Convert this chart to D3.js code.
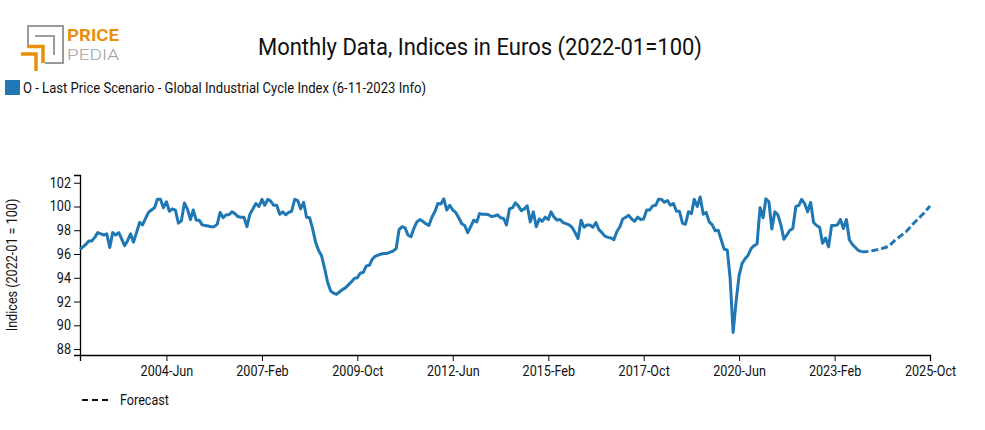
<!DOCTYPE html>
<html>
<head>
<meta charset="utf-8">
<script src="https://cdn.jsdelivr.net/npm/d3@7"></script>
<style>
  html, body { margin: 0; padding: 0; background: #fff; }
  svg text { font-family: Roboto, "Noto Sans", sans-serif; fill: #222; }
</style>
</head>
<body>
<svg id="chart" width="985" height="430"></svg>
<script>
// ---------------- DATA ----------------
const title = "Monthly Data, Indices in Euros (2022-01=100)";
const seriesName = "O - Last Price Scenario - Global Industrial Cycle Index (6-11-2023 Info)";
const yAxisLabel = "Indices (2022-01 = 100)";
const forecastLabel = "Forecast";
const startMonth = "2002-01";           // first month of the series
const forecastStartMonth = "2023-11";   // first month of the forecast part

// monthly values, 2002-01 .. 2023-11 (actual)
const actualValues = [
  96.4, 96.6, 96.8, 97.1, 97.1, 97.4, 97.8, 97.7, 97.6, 97.7, 96.55, 97.8,
  97.6, 97.8, 97.3, 96.7, 97.1, 97.7, 97.0, 97.8, 98.65, 98.45, 99.0, 99.5,
  99.7, 99.9, 100.6, 100.6, 99.9, 100.4, 99.6, 99.8, 99.7, 98.6, 98.8, 100.3,
  99.8, 98.9, 99.7, 98.85, 98.85, 98.45, 98.4, 98.35, 98.3, 98.3, 98.5, 99.5,
  99.05, 99.3, 99.3, 99.55, 99.4, 99.15, 99.1, 99.1, 98.3, 99.35, 99.8, 100.25,
  100.0, 100.6, 100.1, 100.6, 100.45, 100.1, 100.1, 99.35, 99.55, 99.3, 99.5, 99.6,
  100.6, 100.5, 99.8, 100.35, 99.1, 99.05, 98.15, 97.0, 96.3, 95.85, 94.8, 93.65,
  92.9, 92.7, 92.6, 92.8, 93.0, 93.15, 93.4, 93.65, 93.95, 94.0, 94.4, 94.45,
  95.0, 95.05, 95.55, 95.8, 95.9, 96.0, 96.05, 96.05, 96.15, 96.25, 96.45, 98.05,
  98.3, 98.2, 97.6, 97.45, 98.15, 98.7, 98.9, 98.75, 98.55, 98.4, 99.1, 99.55,
  100.25, 100.2, 100.65, 99.7, 100.1, 99.7, 99.5, 99.05, 98.55, 98.4, 97.8, 98.3,
  98.85, 98.7, 99.4, 99.35, 99.35, 99.3, 99.15, 99.2, 99.3, 99.05, 99.0, 98.45,
  99.8, 99.9, 100.3, 100.05, 99.65, 99.8, 100.05, 98.7, 99.55, 98.3, 98.95, 98.75,
  99.1, 98.9, 99.55, 99.1, 98.85, 98.9, 98.65, 98.55, 98.45, 98.25, 97.8, 97.3,
  98.85, 98.25, 98.45, 98.45, 98.25, 98.65, 98.05, 97.8, 97.5, 97.4, 97.35, 97.2,
  97.9, 98.3, 98.95, 99.1, 99.25, 98.95, 98.75, 99.1, 98.9, 98.95, 99.7, 99.7,
  100.05, 100.1, 100.6, 100.6, 100.35, 100.5, 100.1, 100.25, 99.6, 99.6, 98.6, 98.5,
  99.55, 99.4, 100.6, 100.0, 100.8, 99.35, 99.5, 98.7, 98.45, 97.95, 98.0, 97.2,
  96.4, 96.35, 94.0, 89.4, 92.0, 94.2, 95.2, 95.6, 95.9, 96.45, 96.7, 96.85,
  99.9, 99.05, 100.65, 100.4, 98.1, 99.55, 99.3, 98.45, 97.25, 97.6, 98.0, 98.15,
  100.0, 100.1, 100.6, 100.25, 99.55, 100.35, 98.65, 98.4, 98.25, 96.9, 97.35, 96.6,
  98.4, 98.4, 98.45, 98.9, 98.15, 98.9, 97.2, 96.8, 96.55, 96.3, 96.2
];
// monthly forecast values, 2023-11 .. 2025-10
const forecastValues = [
  96.2, 96.2, 96.22, 96.25, 96.3, 96.35, 96.4, 96.47, 96.55, 96.65, 96.85, 97.1,
  97.3, 97.5, 97.7, 97.9, 98.15, 98.45, 98.7, 98.95, 99.2, 99.45, 99.75, 100.05
];

const xTickLabels = ["2004-Jun", "2007-Feb", "2009-Oct", "2012-Jun", "2015-Feb",
                     "2017-Oct", "2020-Jun", "2023-Feb", "2025-Oct"];
const yTicks = [88, 90, 92, 94, 96, 98, 100, 102];

// ---------------- HELPERS ----------------
const monthNames = ["Jan","Feb","Mar","Apr","May","Jun","Jul","Aug","Sep","Oct","Nov","Dec"];
function parseYM(s) { const [y, m] = s.split("-").map(Number); return new Date(y, m - 1, 1); }
function parseTick(s) { const [y, m] = s.split("-"); return new Date(+y, monthNames.indexOf(m), 1); }
function addMonths(d, k) { return new Date(d.getFullYear(), d.getMonth() + k, 1); }
function squeeze(sel, k) {
  sel.each(function () {
    const w = this.getComputedTextLength();
    d3.select(this).attr("textLength", w * k).attr("lengthAdjust", "spacingAndGlyphs");
  });
}
function fitWidth(sel, w) {
  sel.attr("textLength", w).attr("lengthAdjust", "spacingAndGlyphs");
}

const actual = actualValues.map((v, i) => ({ date: addMonths(parseYM(startMonth), i), value: v }));
const forecast = forecastValues.map((v, i) => ({ date: addMonths(parseYM(forecastStartMonth), i), value: v }));

// ---------------- LAYOUT ----------------
const svg = d3.select("#chart");
const plot = { left: 80, right: 930, top: 175, bottom: 355 };
const blue = "#1f77b4";

const x = d3.scaleTime()
  .domain([parseYM(startMonth), forecast[forecast.length - 1].date])
  .range([plot.left, plot.right]);
const y = d3.scaleLinear().domain([87.5, 102.65]).range([plot.bottom, plot.top]);

// ---------------- LOGO ----------------
const logo = svg.append("g").attr("class", "logo");
const gray = "#9a9a9a", orange = "#e8900c";
logo.append("path").attr("d", "M28,45 V26 H63 V63 H45")
  .attr("fill", "none").attr("stroke", gray).attr("stroke-width", 2);
logo.append("path").attr("d", "M35,36 H54 V55")
  .attr("fill", "none").attr("stroke", gray).attr("stroke-width", 2);
logo.append("path").attr("d", "M27,46.5 H43 V63")
  .attr("fill", "none").attr("stroke", orange).attr("stroke-width", 3.5);
logo.append("path").attr("d", "M21,54 H36 V71")
  .attr("fill", "none").attr("stroke", orange).attr("stroke-width", 3.5);
logo.append("text").attr("x", 67).attr("y", 41).text("PRICE")
  .style("font-size", "16px").style("font-weight", "bold").style("fill", orange)
  .call(fitWidth, 52);
logo.append("text").attr("x", 67).attr("y", 59.5).text("PEDIA")
  .style("font-size", "15px").style("font-weight", "300").style("fill", "#a0a0a0")
  .call(fitWidth, 52);

// ---------------- TITLE ----------------
svg.append("text").attr("x", 480).attr("y", 55).attr("text-anchor", "middle")
  .style("font-size", "23px").style("fill", "#111").text(title)
  .call(fitWidth, 444);

// ---------------- LEGEND ----------------
svg.append("rect").attr("x", 5).attr("y", 80).attr("width", 15).attr("height", 15).attr("fill", blue);
svg.append("text").attr("x", 23).attr("y", 93).style("font-size", "14px").style("fill", "#111")
  .text(seriesName).call(fitWidth, 403);

// ---------------- AXES ----------------
const xAxis = d3.axisBottom(x)
  .tickValues(xTickLabels.map(parseTick))
  .tickFormat(d => d.getFullYear() + "-" + monthNames[d.getMonth()])
  .tickSize(6);
const gx = svg.append("g").attr("transform", `translate(0,${plot.bottom})`).call(xAxis);
gx.selectAll("text").style("font-size", "14px").style("fill", "#111").attr("dy", "0.85em")
  .call(squeeze, 0.9);
gx.selectAll("line, path").attr("stroke", "#000");

const yAxis = d3.axisLeft(y).tickValues(yTicks).tickSize(6);
const gy = svg.append("g").attr("transform", `translate(${plot.left},0)`).call(yAxis);
gy.selectAll("text").style("font-size", "14px").style("fill", "#111").call(squeeze, 0.9);
gy.selectAll("line, path").attr("stroke", "#000");
svg.selectAll(".domain").attr("stroke-width", 1.3);

svg.append("text")
  .attr("transform", `translate(17,${(plot.top + plot.bottom) / 2}) rotate(-90)`)
  .attr("text-anchor", "middle").style("font-size", "14px").style("fill", "#111")
  .text(yAxisLabel).call(squeeze, 0.9);

// ---------------- LINES ----------------
const line = d3.line().x(d => x(d.date)).y(d => y(d.value)).curve(d3.curveLinear);
svg.append("path").datum(actual).attr("d", line)
  .attr("fill", "none").attr("stroke", blue).attr("stroke-width", 3)
  .attr("stroke-linejoin", "round");
svg.append("path").datum(forecast).attr("d", line)
  .attr("fill", "none").attr("stroke", blue).attr("stroke-width", 3)
  .attr("stroke-dasharray", "7,3");

// ---------------- FORECAST LEGEND ----------------
svg.append("line").attr("x1", 82).attr("x2", 108).attr("y1", 400).attr("y2", 400)
  .attr("stroke", "#111").attr("stroke-width", 2).attr("stroke-dasharray", "6,4");
svg.append("text").attr("x", 120).attr("y", 405).style("font-size", "14px").style("fill", "#111")
  .text(forecastLabel).call(squeeze, 0.9);
</script>
</body>
</html>
